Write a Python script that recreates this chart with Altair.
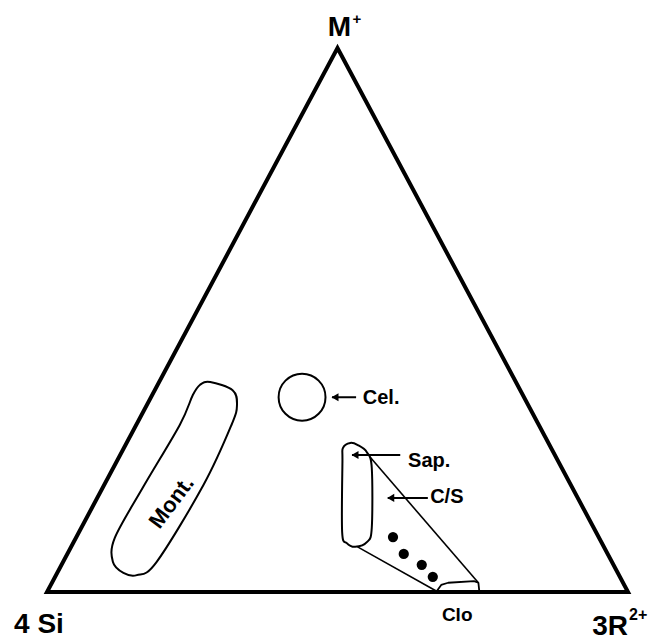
import altair as alt
import pandas as pd

# Compositions are fractions of M+ (m) and 3R2+ (r); 4 Si is the remainder.
# Triangle corners: 4 Si, 3R2+, M+
corner_m = [0.0, 0.0, 1.0]
corner_r = [0.0, 1.0, 0.0]

# Montmorillonite field outline
mont_m = [0.386, 0.371, 0.344, 0.307, 0.197, 0.055, 0.031, 0.035, 0.055, 0.099, 0.191, 0.307, 0.362, 0.381]
mont_r = [0.088, 0.134, 0.155, 0.164, 0.171, 0.161, 0.139, 0.114, 0.086, 0.067, 0.069, 0.075, 0.070, 0.073]

# Saponite field outline
sap_m = [0.274, 0.270, 0.257, 0.228, 0.118, 0.092, 0.083, 0.090, 0.110, 0.239, 0.265]
sap_r = [0.385, 0.400, 0.422, 0.445, 0.500, 0.505, 0.489, 0.471, 0.453, 0.389, 0.377]

# Chlorite field outline (on the Si - 3R2+ join)
clo_m = [0.002, 0.013, 0.017, 0.020, 0.017, 0.002]
clo_r = [0.670, 0.672, 0.682, 0.725, 0.734, 0.743]

# Boundaries of the chlorite/smectite field (saponite -> chlorite)
cs_upper_m = [0.248, 0.017]
cs_upper_r = [0.432, 0.734]
cs_lower_m = [0.083, 0.0]
cs_lower_r = [0.493, 0.673]

# Analysed samples
sample_m = [0.101, 0.070, 0.050, 0.028]
sample_r = [0.545, 0.579, 0.620, 0.650]

# Celadonite composition
cel_m = [0.358]
cel_r = [0.260]

# Labels with pointer arrows: name, label position, arrow tip and tail
arrow_names = ["Cel.", "Sap.", "C/S"]
arrow_m = [0.358, 0.252, 0.173]
arrow_tip_r = [0.3115, 0.399, 0.500]
arrow_tail_r = [0.353, 0.482, 0.569]
label_m = [0.357, 0.241, 0.175]
label_r = [0.365, 0.501, 0.572]

# Field names placed inside or below their fields
mont_label_m = [0.165]
mont_label_r = [0.132]
clo_label_m = [0.0]
clo_label_r = [0.706]


def to_xy(m, r, **extra):
    """Ternary (m, r) -> plot coordinates: x along the base, y toward M+."""
    df = pd.DataFrame({"m": m, "r": r})
    df["x"] = df["r"] + df["m"] / 2
    df["y"] = df["m"]
    df["i"] = range(len(df))
    for k, v in extra.items():
        df[k] = v
    return df


FONT = "Liberation Sans"
xs = alt.Scale(domain=[0, 1], nice=False, zero=False)
ys = alt.Scale(domain=[0, 1], nice=False, zero=False)
X = alt.X("x:Q", scale=xs, axis=None)
Y = alt.Y("y:Q", scale=ys, axis=None)
O = alt.Order("i:Q")


def outline(df, width, interp):
    return alt.Chart(df).mark_line(
        color="black", strokeWidth=width, interpolate=interp, strokeJoin="round"
    ).encode(x=X, y=Y, order=O)


triangle = alt.Chart(to_xy(corner_m, corner_r)).mark_line(
    color="black", strokeWidth=4, interpolate="linear-closed", strokeJoin="miter"
).encode(x=X, y=Y, order=O)

mont = outline(to_xy(mont_m, mont_r), 2, "cardinal-closed")
sap = outline(to_xy(sap_m, sap_r), 2, "cardinal-closed")
clo = outline(to_xy(clo_m, clo_r), 1.8, "linear-closed")
cs_up = outline(to_xy(cs_upper_m, cs_upper_r), 1.6, "linear")
cs_low = outline(to_xy(cs_lower_m, cs_lower_r), 1.6, "linear")

samples = alt.Chart(to_xy(sample_m, sample_r)).mark_point(
    shape="circle", filled=True, color="black", size=105, opacity=1
).encode(x=X, y=Y)

cel = alt.Chart(to_xy(cel_m, cel_r)).mark_point(
    shape="circle", filled=False, color="black", size=2200, strokeWidth=2, opacity=1
).encode(x=X, y=Y)

arr = pd.DataFrame({"name": arrow_names, "m": arrow_m, "tip": arrow_tip_r, "tail": arrow_tail_r})
arr["x"] = arr["tip"] + arr["m"] / 2
arr["x2"] = arr["tail"] + arr["m"] / 2
arr["y"] = arr["m"]

arrow_shafts = alt.Chart(arr).mark_rule(color="black", strokeWidth=2).encode(
    x=X, x2=alt.X2("x2:Q"), y=Y
)
arrow_heads = alt.Chart(arr).mark_point(
    shape="triangle-left", filled=True, color="black", size=65, opacity=1, xOffset=3
).encode(x=X, y=Y)

names = to_xy(label_m, label_r, name=arrow_names)
arrow_labels = alt.Chart(names).mark_text(
    font=FONT, fontWeight="bold", fontSize=20, align="left", baseline="middle", color="black"
).encode(x=X, y=Y, text="name:N")

mont_label = alt.Chart(to_xy(mont_label_m, mont_label_r, name=["Mont."])).mark_text(
    font=FONT, fontWeight="bold", fontSize=22, align="center", baseline="middle",
    angle=307, color="black"
).encode(x=X, y=Y, text="name:N")

clo_label = alt.Chart(to_xy(clo_label_m, clo_label_r, name=["Clo"])).mark_text(
    font=FONT, fontWeight="bold", fontSize=19, align="center", baseline="middle",
    dy=23, color="black"
).encode(x=X, y=Y, text="name:N")


def corner_text(idx, txt, size, align, dx, dy):
    df = to_xy([corner_m[idx]], [corner_r[idx]], name=[txt])
    return alt.Chart(df).mark_text(
        font=FONT, fontWeight="bold", fontSize=size, align=align, baseline="alphabetic",
        dx=dx, dy=dy, color="black"
    ).encode(x=X, y=Y, text="name:N")


si_label = corner_text(0, "4 Si", 28, "center", -8, 41)
r_label = corner_text(1, "3R", 28, "right", 0, 43)
r_sup = corner_text(1, "2+", 16, "left", 1, 28)
m_label = corner_text(2, "M", 28, "center", 2, -12)
m_sup = corner_text(2, "+", 15, "left", 15, -24)

chart = alt.layer(
    triangle, mont, sap, clo, cs_up, cs_low, samples, cel,
    arrow_shafts, arrow_heads, arrow_labels, mont_label, clo_label,
    si_label, r_label, r_sup, m_label, m_sup,
).properties(
    width=581, height=544,
    padding={"left": 47, "top": 48, "right": 24, "bottom": 49},
    autosize="none", background="white",
).configure_view(stroke=None)

chart.save("out.html", embed_options={"renderer": "svg", "actions": False})
